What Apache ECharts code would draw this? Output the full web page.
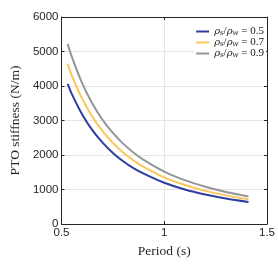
<!DOCTYPE html>
<html><head><meta charset="utf-8">
<script src="https://cdn.jsdelivr.net/npm/echarts@6/dist/echarts.min.js"></script>
<style>html,body{margin:0;padding:0;background:#fff}#c{width:278px;height:278px}</style>
</head><body><div id="c"></div>
<script>
const periods = [0.53, 0.55, 0.6, 0.65, 0.7, 0.75, 0.8, 0.85, 0.9, 1.0, 1.1, 1.2, 1.3, 1.41];
const ratio05 = [4060, 3770, 3180, 2720, 2360, 2060, 1820, 1620, 1460, 1195, 1000, 855, 740, 640];
const ratio07 = [4640, 4310, 3640, 3110, 2690, 2350, 2075, 1845, 1655, 1350, 1130, 960, 830, 715];
const ratio09 = [5220, 4850, 4090, 3490, 3020, 2640, 2330, 2075, 1860, 1520, 1270, 1080, 930, 800];
const seriesNames = ['0.5', '0.7', '0.9'];
const seriesValues = [ratio05, ratio07, ratio09];
const colors = ['#2f3da0', '#fcc75a', '#969696'];
const xTicks = ['0.5', '1', '1.5'];
const yTicks = ['0', '1000', '2000', '3000', '4000', '5000', '6000'];

const axisColor = '#262626';
const gridColor = '#e6e6e6';
const chart = echarts.init(document.getElementById('c'), null, {renderer: 'canvas'});
const series = seriesNames.map((n, i) => ({
  name: n, type: 'line', xAxisIndex: 0, yAxisIndex: 0,
  data: periods.map((p, j) => [p, seriesValues[i][j]]),
  smooth: 0.3, showSymbol: false, symbol: 'none',
  lineStyle: {color: colors[i], width: 2}, itemStyle: {color: colors[i]}, z: 3 + i
}));
chart.setOption({
  animation: false,
  backgroundColor: '#fff',
  grid: {left: 46, right: 10.5, top: 17, bottom: 54, containLabel: false},
  legend: {
    data: seriesNames, orient: 'vertical', right: 12, top: 25,
    icon: 'rect', itemWidth: 13, itemHeight: 2, itemGap: 0,
    backgroundColor: '#fff', padding: [1, 2, 1, 2],
    formatter: n => '{i|ρ}{sb|s}{t|/}{i|ρ}{sb|w}{t| = ' + n + '}',
    textStyle: {
      fontFamily: 'DejaVu Serif', fontSize: 10, color: '#222',
      rich: {
        i: {fontFamily: 'DejaVu Serif', fontStyle: 'italic', fontSize: 10, color: '#222'},
        sb: {fontFamily: 'DejaVu Serif', fontStyle: 'italic', fontSize: 7, color: '#222', padding: [4, 0, 0, 0]},
        t: {fontFamily: 'Liberation Serif', fontSize: 11, color: '#222'}
      }
    }
  },
  xAxis: [{
    type: 'value', min: 0.5, max: 1.5, interval: 0.5,
    name: 'Period (s)', nameLocation: 'middle', nameGap: 20,
    nameTextStyle: {fontFamily: 'Liberation Serif', fontSize: 13.5, color: axisColor},
    axisLine: {show: true, lineStyle: {color: axisColor, width: 1}},
    axisTick: {show: true, inside: true, length: 3, lineStyle: {color: axisColor}},
    axisLabel: {fontFamily: 'Liberation Sans', fontSize: 11.5, color: axisColor, margin: 3,
      formatter: v => { const idx = Math.round((v - 0.5) / 0.5); return xTicks[idx] || ''; }},
    splitLine: {show: true, lineStyle: {color: gridColor, width: 1}}
  }, {
    type: 'value', position: 'top', min: 0.5, max: 1.5, interval: 0.5,
    axisLine: {show: true, onZero: false, lineStyle: {color: axisColor, width: 1}},
    axisTick: {show: true, inside: true, length: 3, lineStyle: {color: axisColor}},
    axisLabel: {show: false}, splitLine: {show: false}
  }],
  yAxis: [{
    type: 'value', min: 0, max: 6000, interval: 1000,
    name: 'PTO stiffness (N/m)', nameLocation: 'middle', nameGap: 33,
    nameTextStyle: {fontFamily: 'Liberation Serif', fontSize: 13.5, color: axisColor},
    axisLine: {show: true, lineStyle: {color: axisColor, width: 1}},
    axisTick: {show: true, inside: true, length: 3, lineStyle: {color: axisColor}},
    axisLabel: {fontFamily: 'Liberation Sans', fontSize: 11.5, color: axisColor, margin: 3,
      formatter: v => yTicks[Math.round(v / 1000)] || ''},
    splitLine: {show: true, lineStyle: {color: gridColor, width: 1}}
  }, {
    type: 'value', position: 'right', min: 0, max: 6000, interval: 1000,
    axisLine: {show: true, onZero: false, lineStyle: {color: axisColor, width: 1}},
    axisTick: {show: true, inside: true, length: 3, lineStyle: {color: axisColor}},
    axisLabel: {show: false}, splitLine: {show: false}
  }],
  series: series
});
</script></body></html>
